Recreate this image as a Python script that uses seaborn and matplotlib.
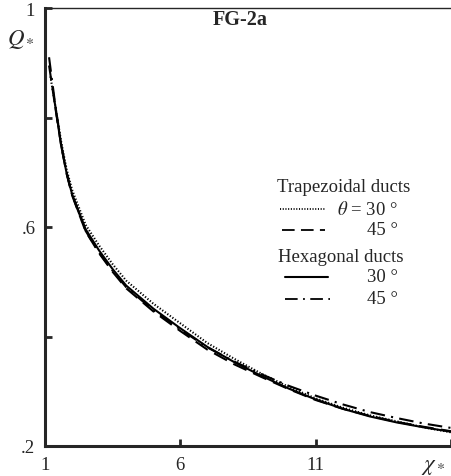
import matplotlib
matplotlib.use("Agg")
import matplotlib.pyplot as plt
import numpy as np
import pandas as pd
import seaborn as sns

sns.set_style("ticks")
plt.rcParams["font.family"] = ["Liberation Serif", "DejaVu Serif"]
plt.rcParams["mathtext.fontset"] = "stix"

# Dimensionless heat transfer Q* versus dimensionless axial distance x*
x_trap30 = [1.2, 1.4, 1.6, 1.8, 2.0, 2.5, 3.0, 3.5, 4.0, 5.0, 6.0, 7.0, 8.0, 9.0, 10.0, 11.0, 12.0, 13.0, 14.0, 15.0, 16.0]
q_trap30 = [0.875, 0.815, 0.755, 0.705, 0.668, 0.604, 0.566, 0.532, 0.502, 0.460, 0.424, 0.388, 0.359, 0.332, 0.308, 0.287, 0.270, 0.256, 0.245, 0.234, 0.225]

x_trap45 = [1.15, 1.4, 1.6, 1.8, 2.0, 2.5, 3.0, 3.5, 4.0, 5.0, 6.0, 7.0, 8.0, 9.0, 10.0, 11.0, 12.0, 13.0, 14.0, 15.0, 16.0]
q_trap45 = [0.895, 0.812, 0.748, 0.697, 0.658, 0.592, 0.552, 0.518, 0.488, 0.446, 0.410, 0.376, 0.349, 0.326, 0.304, 0.284, 0.268, 0.255, 0.244, 0.235, 0.227]

x_hex30 = [1.35, 1.4, 1.6, 1.8, 2.0, 2.5, 3.0, 3.5, 4.0, 5.0, 6.0, 7.0, 8.0, 9.0, 10.0, 11.0, 12.0, 13.0, 14.0, 15.0, 16.0]
q_hex30 = [0.830, 0.815, 0.748, 0.698, 0.660, 0.596, 0.557, 0.523, 0.493, 0.451, 0.415, 0.381, 0.353, 0.328, 0.305, 0.285, 0.268, 0.254, 0.243, 0.234, 0.226]

x_hex45 = [1.15, 1.4, 1.6, 1.8, 2.0, 2.5, 3.0, 3.5, 4.0, 5.0, 6.0, 7.0, 8.0, 9.0, 10.0, 11.0, 12.0, 13.0, 14.0, 15.0, 16.0]
q_hex45 = [0.910, 0.815, 0.750, 0.699, 0.659, 0.593, 0.553, 0.520, 0.490, 0.448, 0.413, 0.380, 0.354, 0.331, 0.310, 0.292, 0.276, 0.262, 0.251, 0.241, 0.233]

x_ticks = [1, 6, 11, 16]
x_tick_labels = ["1", "6", "11", ""]
y_ticks = [0.2, 0.4, 0.6, 0.8, 1.0]
y_tick_labels = [".2", "", ".6", "", "1"]

series = [
    ("trap30", x_trap30, q_trap30),
    ("trap45", x_trap45, q_trap45),
    ("hex30", x_hex30, q_hex30),
    ("hex45", x_hex45, q_hex45),
]
df = pd.concat(
    [pd.DataFrame({"x": xs, "Q": qs, "case": name}) for name, xs, qs in series],
    ignore_index=True,
)

styles = {
    "trap30": (0, (0.6, 0.9)),
    "trap45": (0, (7, 3.5)),
    "hex30": "-",
    "hex45": (0, (7, 3, 1, 3)),
}

fig = plt.figure(figsize=(4.51, 4.77), dpi=100)
ax = fig.add_axes([45 / 451, 1 - 447 / 477, 1 - 45 / 451, (447 - 9) / 477])

for name, _, _ in series:
    sub = df[df["case"] == name]
    sns.lineplot(data=sub, x="x", y="Q", ax=ax, color="black", lw=1.5,
                 linestyle=styles[name], legend=False, sort=True)

ax.set_xlim(1, 16)
ax.set_ylim(0.2, 1.0)
ax.set_xticks(x_ticks)
ax.set_xticklabels(x_tick_labels)
ax.set_yticks(y_ticks)
ax.set_yticklabels(y_tick_labels)
ax.tick_params(direction="in", length=5, width=2, labelsize=13.5, pad=7)
ax.set_xlabel("")
ax.set_ylabel("")

for side in ["left", "bottom"]:
    ax.spines[side].set_linewidth(2.2)
ax.spines["top"].set_linewidth(1.0)
ax.spines["right"].set_visible(False)

# axis symbols
ax.text(-0.06, 0.93, r"$Q_*$", transform=ax.transAxes, fontsize=16.5,
        ha="center", va="center")
ax.text(0.955, -0.045, r"$\chi_*$", transform=ax.transAxes, fontsize=16.5,
        ha="center", va="center")

ax.text(0.48, 0.975, "FG-2a", transform=ax.transAxes, fontsize=14.5,
        fontweight="bold", ha="center", va="center")

# key
def tx(px):
    return (px - 45) / 406

def ty(py):
    return (447 - py) / 438

fs = 13.5
ax.text(tx(344), ty(188), "Trapezoidal ducts", transform=ax.transAxes,
        fontsize=fs, ha="center", va="center")
ax.plot([tx(280), tx(325)], [ty(210), ty(210)], transform=ax.transAxes,
        color="black", lw=1.3, linestyle=styles["trap30"])
ax.text(tx(398), ty(210), r"$\theta$ = 30 °", transform=ax.transAxes,
        fontsize=fs, ha="right", va="center")
ax.plot([tx(282), tx(325)], [ty(231), ty(231)], transform=ax.transAxes,
        color="black", lw=1.3, linestyle=styles["trap45"])
ax.text(tx(398), ty(231), "45 °", transform=ax.transAxes,
        fontsize=fs, ha="right", va="center")
ax.text(tx(341), ty(257), "Hexagonal ducts", transform=ax.transAxes,
        fontsize=fs, ha="center", va="center")
ax.plot([tx(285), tx(328)], [ty(278), ty(278)], transform=ax.transAxes,
        color="black", lw=1.5, linestyle=styles["hex30"])
ax.text(tx(398), ty(278), "30 °", transform=ax.transAxes,
        fontsize=fs, ha="right", va="center")
ax.plot([tx(285), tx(330)], [ty(300), ty(300)], transform=ax.transAxes,
        color="black", lw=1.3, linestyle=styles["hex45"])
ax.text(tx(398), ty(300), "45 °", transform=ax.transAxes,
        fontsize=fs, ha="right", va="center")

fig.savefig("out.png", dpi=100)
